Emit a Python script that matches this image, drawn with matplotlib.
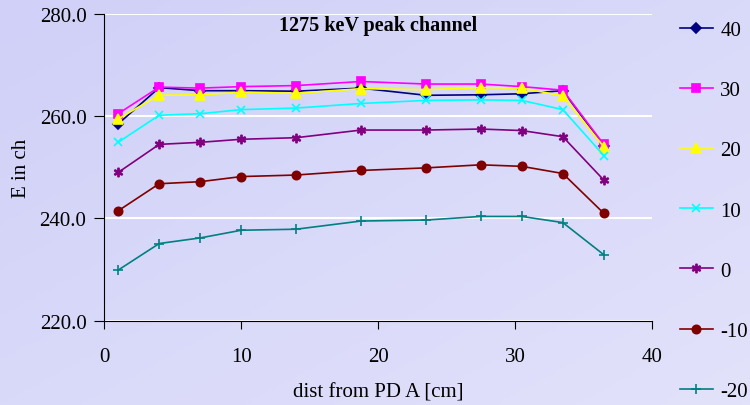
import numpy as np
import matplotlib.pyplot as plt

# distance from PD A [cm]
dist = [1, 4, 7, 10, 14, 18.75, 23.5, 27.5, 30.5, 33.5, 36.5]

# peak channel per series (label = setting)
e_40 = [258.5, 265.6, 265.0, 265.0, 264.9, 265.5, 264.1, 264.2, 264.4, 265.0, 254.2]
e_30 = [260.5, 265.7, 265.5, 265.8, 266.0, 266.8, 266.3, 266.3, 265.8, 265.1, 254.5]
e_20 = [259.5, 264.1, 264.2, 264.7, 264.5, 265.4, 265.2, 265.6, 265.5, 264.0, 254.0]
e_10 = [254.9, 260.2, 260.5, 261.3, 261.6, 262.5, 263.1, 263.2, 263.1, 261.3, 252.3]
e_0 = [249.0, 254.5, 254.9, 255.5, 255.8, 257.3, 257.3, 257.5, 257.2, 256.0, 247.5]
e_m10 = [241.5, 246.8, 247.2, 248.2, 248.5, 249.4, 249.9, 250.5, 250.2, 248.8, 241.0]
e_m20 = [229.9, 235.1, 236.2, 237.7, 237.9, 239.5, 239.7, 240.4, 240.4, 239.2, 232.9]

labels = ["40", "30", "20", "10", "0", "-10", "-20"]
series = [e_40, e_30, e_20, e_10, e_0, e_m10, e_m20]
colors = ["#000080", "#FF00FF", "#FFFF00", "#00FFFF", "#800080", "#800000", "#008080"]
markers = ["D", "s", "^", "x", "$\u2217$", "o", "+"]
msizes = [5.5, 6, 6.5, 5.5, 6, 6, 7]

plt.rcParams['font.family'] = ['Liberation Serif', 'DejaVu Serif']

fig = plt.figure(figsize=(7.5, 4.06), dpi=100)

# lavender gradient background
bg = fig.add_axes([0, 0, 1, 1], zorder=-10)
gx, gy = np.meshgrid(np.linspace(0, 1, 200), np.linspace(0, 1, 120))
grad = (gx + gy) / 2
bg.imshow(grad, extent=[0, 1, 0, 1], aspect='auto', origin='upper',
          cmap=plt.matplotlib.colors.LinearSegmentedColormap.from_list(
              "lav", ["#D0D0F8", "#E2E2FB"]))
bg.axis('off')

ax = fig.add_axes([0.1393, 0.2076, 0.7297, 0.7554])
ax.patch.set_alpha(0)

for lab, vals, c, m, ms in zip(labels, series, colors, markers, msizes):
    ax.plot(dist, vals, color=c, marker=m, markersize=ms, lw=1.2,
            markeredgewidth=1.2, label=lab)

ax.set_xlim(0, 40)
ax.set_ylim(220, 280)
ax.set_xticks([0, 10, 20, 30, 40])
ax.set_yticks([220, 240, 260, 280])
ax.set_yticklabels([f"{v:.1f}" for v in [220, 240, 260, 280]])
ax.yaxis.grid(True, color="white", lw=1.5)
ax.set_axisbelow(True)
for s in ["top", "right"]:
    ax.spines[s].set_visible(False)
ax.tick_params(axis="y", direction="out", length=7, pad=6, labelsize=15)
ax.tick_params(axis="x", direction="out", length=6, pad=13, labelsize=15)

ax.set_xlabel("dist from PD A [cm]", fontsize=15, labelpad=12)
ax.set_ylabel("E in ch", fontsize=15, labelpad=6)
ax.text(0.5, 0.965, "1275 keV peak channel", transform=ax.transAxes,
        ha="center", va="center", fontsize=14.5, fontweight="bold")

fig.legend(loc="upper left", bbox_to_anchor=(0.895, 0.968), frameon=False,
           fontsize=15, handlelength=1.6, handletextpad=0.35,
           labelspacing=1.95, borderaxespad=0)

fig.savefig("out.png", dpi=100)
